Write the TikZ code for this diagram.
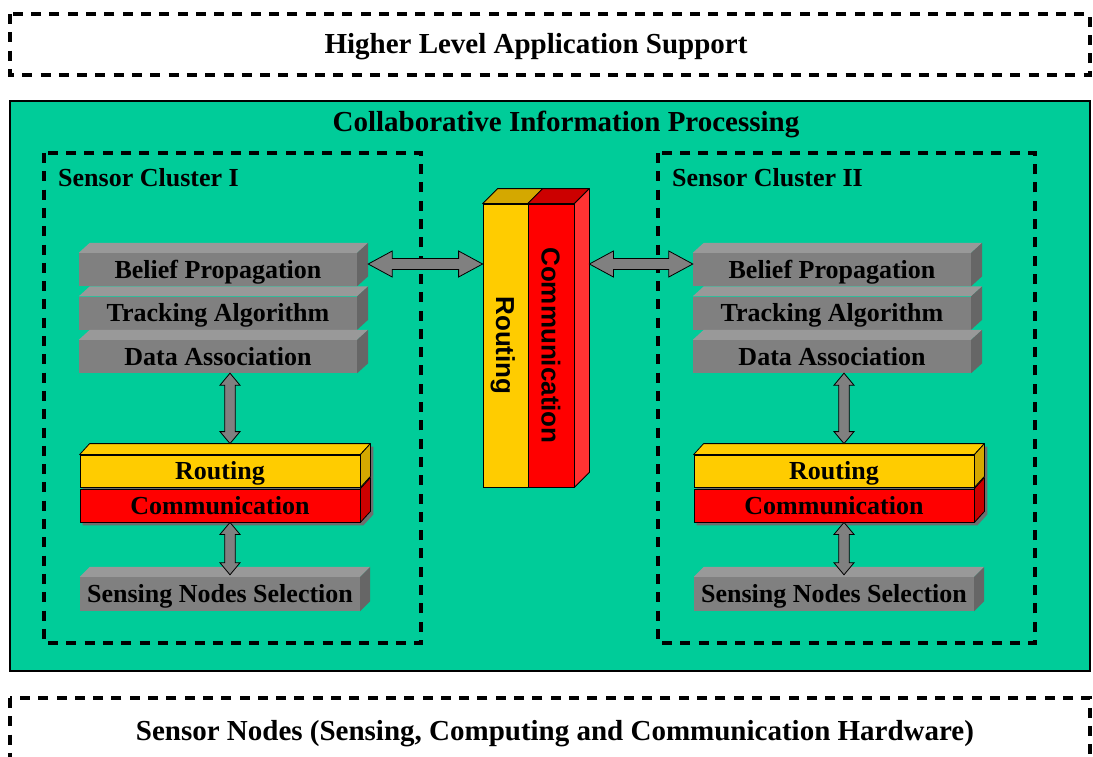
\documentclass[tikz,border=0pt]{standalone}
\usepackage{fontspec}
\setmainfont{Liberation Serif}
\setsansfont{Liberation Sans}
\usetikzlibrary{calc}

\definecolor{panelgreen}{RGB}{0,204,153}
\definecolor{boxfront}{RGB}{128,128,128}
\definecolor{boxtop}{RGB}{153,153,153}
\definecolor{boxside}{RGB}{102,102,102}
\definecolor{routefront}{RGB}{255,204,0}
\definecolor{routeside}{RGB}{212,168,0}
\definecolor{commfront}{RGB}{255,0,0}
\definecolor{commside}{RGB}{204,0,0}
\definecolor{commlight}{RGB}{255,51,51}
\definecolor{shadowgray}{RGB}{110,110,110}

\tikzset{
  every node/.style={font=\fontsize{26}{30}\selectfont\bfseries, inner sep=0pt,
    text height=17pt, text depth=0pt},
  frametitle/.style={font=\fontsize{29}{34}\selectfont\bfseries, text height=19pt},
  dashframe/.style={draw=black, line width=3.3pt, dash pattern=on 10pt off 8.3pt},
  graylayer/.style={fill=boxfront, minimum width=278pt, minimum height=33pt},
  routelayer/.style={fill=routefront, draw=black, line width=0.8pt, minimum width=280pt, minimum height=32pt},
  commlayer/.style={fill=commfront, draw=black, line width=0.8pt, minimum width=280pt, minimum height=33pt},
  blockarrow/.style={fill=boxfront, draw=black, line width=0.8pt, line join=miter},
  columntext/.style={font=\fontsize{26}{30}\selectfont\sffamily\bfseries, rotate=-90, text height=18.6pt},
}

% top face of a slab whose front face is node #1
\newcommand{\slabtop}[5]{%
  \filldraw[fill=#4, draw=#5, line width=0.8pt, line join=round]
    (#1.north west) -- ([shift={(#2,-#3)}]#1.north west)
    -- ([shift={(#2,-#3)}]#1.north east) -- (#1.north east) -- cycle;
}
% right face of a slab whose front face is node #1
\newcommand{\slabside}[5]{%
  \filldraw[fill=#4, draw=#5, line width=0.8pt, line join=round]
    (#1.north east) -- ([shift={(#2,-#3)}]#1.north east)
    -- ([shift={(#2,-#3)}]#1.south east) -- (#1.south east) -- cycle;
}
% both visible faces
\newcommand{\slabdepth}[6]{%
  \slabtop{#1}{#2}{#3}{#4}{#6}
  \slabside{#1}{#2}{#3}{#5}{#6}
}

% drop shadow behind a stack running from node #1 (top) to node #2 (bottom)
\newcommand{\stackshadow}[4]{%
  \fill[shadowgray]
    ([shift={(3,3)}]#1.north west) -- ([shift={(3+#3,3-#4)}]#1.north east)
    -- ([shift={(3+#3,3-#4)}]#2.south east) -- ([shift={(3,3)}]#2.south east)
    -- ([shift={(3,3)}]#2.south west) -- cycle;
}

% vertical double block arrow from point #1 (top) to point #2 (bottom)
\newcommand{\vblockarrow}[2]{%
  \filldraw[blockarrow] let \p1=(#1), \p2=(#2) in
    (\x1,\y1) -- (\x1+10pt,\y1-12pt) -- (\x1+5.3pt,\y1-12pt)
    -- (\x1+5.3pt,\y2+12pt) -- (\x1+10pt,\y2+12pt) -- (\x1,\y2)
    -- (\x1-10pt,\y2+12pt) -- (\x1-5.3pt,\y2+12pt)
    -- (\x1-5.3pt,\y1-12pt) -- (\x1-10pt,\y1-12pt) -- cycle;
}

% horizontal double block arrow from point #1 (left) to point #2 (right)
\newcommand{\hblockarrow}[2]{%
  \filldraw[blockarrow] let \p1=(#1), \p2=(#2) in
    (\x1,\y1) -- (\x1+24pt,\y1+13pt) -- (\x1+24pt,\y1+5.5pt)
    -- (\x2-24pt,\y1+5.5pt) -- (\x2-24pt,\y1+13pt) -- (\x2,\y1)
    -- (\x2-24pt,\y1-13pt) -- (\x2-24pt,\y1-5.5pt)
    -- (\x1+24pt,\y1-5.5pt) -- (\x1+24pt,\y1-13pt) -- cycle;
}

% one sensor cluster: #1 horizontal offset, #2 name prefix, #3 title
\newcommand{\sensorcluster}[3]{%
\begin{scope}[xshift=#1, name prefix=#2]
  \draw[dashframe] (44,153) rectangle (421,643);
  \node[anchor=west] (title) at (58,178) {#3};
  \coordinate (ax) at (230,0);

  \node[graylayer] (B) at (218,269.5) {Belief Propagation};
  \slabdepth{B}{11}{10}{boxtop}{boxside}{none}
  \node[graylayer] (T) at (218,313) {Tracking Algorithm};
  \slabdepth{T}{11}{10}{boxtop}{boxside}{none}
  \node[graylayer] (D) at (218,356.5) {Data Association};
  \slabdepth{D}{11}{10}{boxtop}{boxside}{none}
  \coordinate (Bside) at ([xshift=11pt]B.east);

  % routing slab resting on the communication slab
  \path (220,471) node[routelayer, draw=none, fill=none] (R) {}
        (220,505.5) node[commlayer, draw=none, fill=none] (C) {};
  \stackshadow{R}{C}{10}{11}
  \node[commlayer] (C) at (220,505.5) {Communication};
  \slabside{C}{10}{11}{commside}{black}
  \node[routelayer] (R) at (220,471) {Routing};
  \slabdepth{R}{10}{11}{routefront}{routeside}{black}

  \node[graylayer, minimum width=280pt, minimum height=34pt] (S) at (220,594) {Sensing Nodes Selection};
  \slabdepth{S}{10}{10}{boxtop}{boxside}{none}

  \vblockarrow{D.south -| ax}{[yshift=11pt]R.north -| ax}
  \vblockarrow{C.south -| ax}{[yshift=2pt]S.north -| ax}
\end{scope}}

\begin{document}
\begin{tikzpicture}[x=1pt, y=-1pt]
  \useasboundingbox (0,0) rectangle (1093,756);

  % application layer
  \draw[dashframe] (10,14) rectangle (1090,75);
  \node[frametitle] (app) at (536,44) {Higher Level Application Support};

  % collaborative processing panel
  \draw[fill=panelgreen, draw=black, line width=1.6pt] (10,101) rectangle (1090,671);
  \node[frametitle] (cip) at (566,122) {Collaborative Information Processing};

  \sensorcluster{0pt}{L-}{Sensor Cluster I}
  \sensorcluster{614pt}{R-}{Sensor Cluster II}

  % shared routing / communication column
  \node[fill=routefront, draw=black, line width=0.8pt, minimum width=45pt, minimum height=283pt] (CR) at (505.5,345.5) {};
  \node[fill=commfront, draw=black, line width=0.8pt, minimum width=46pt, minimum height=283pt] (CC) at (551,345.5) {};
  \slabtop{CR}{15}{15}{routeside}{black}
  \slabdepth{CC}{15}{15}{commside}{commlight}{black}
  \node[columntext] (crt) at (CR) {Routing};
  \node[columntext] (cct) at (CC) {Communication};

  % links between the clusters and the column
  \coordinate (hy) at (0,264);
  \coordinate (CCside) at ([xshift=15pt]CC.east);
  \hblockarrow{L-Bside |- hy}{CR.west |- hy}
  \hblockarrow{CCside |- hy}{R-B.west |- hy}

  % sensor node layer
  \draw[dashframe] (10,698) rectangle (1090,790);
  \node[frametitle] (hw) at (555,731) {Sensor Nodes (Sensing, Computing and Communication Hardware)};
\end{tikzpicture}
\end{document}
